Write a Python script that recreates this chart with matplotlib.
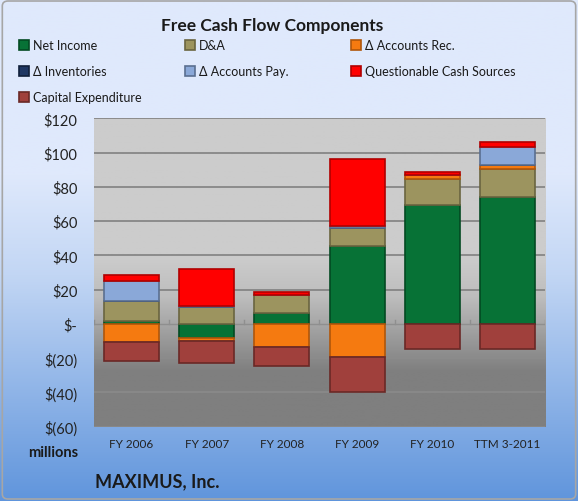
import numpy as np
import matplotlib
matplotlib.use("Agg")
import matplotlib.pyplot as plt
from matplotlib.colors import LinearSegmentedColormap
from matplotlib.patches import FancyBboxPatch

plt.rcParams['font.family'] = ['Lato', 'DejaVu Sans']

categories = ["FY 2006", "FY 2007", "FY 2008", "FY 2009", "FY 2010", "TTM 3-2011"]
series_names = ["Net Income", "D&A", "\u0394 Accounts Rec.", "\u0394 Inventories",
                "\u0394 Accounts Pay.", "Questionable Cash Sources", "Capital Expenditure"]
net_income = [1.5, -8.0, 6.5, 45.5, 69.3, 74.2]
d_and_a = [11.8, 10.0, 10.7, 10.7, 15.6, 16.1]
accounts_rec = [-10.7, -2.0, -13.7, -19.5, 1.9, 2.7]
inventories = [0.0, 0.0, 0.0, 0.0, 0.0, 0.0]
accounts_pay = [11.7, 0.5, 0.0, 1.0, 0.0, 10.3]
questionable = [3.5, 21.5, 1.3, 39.4, 1.9, 2.9]
capex = [-11.1, -12.6, -10.7, -20.0, -14.6, -14.6]
yticks = [-60, -40, -20, 0, 20, 40, 60, 80, 100, 120]
ytick_labels = ["$(60)", "$(40)", "$(20)", "$-", "$20", "$40", "$60", "$80", "$100", "$120"]

colors = ["#077236", "#9c945f", "#f57a10", "#1f3763", "#8aa8d8", "#ff0000", "#a0403c"]
edges = ["#034a22", "#6a6540", "#b0560a", "#101f3a", "#5a6f90", "#b00000", "#6a2826"]

fig = plt.figure(figsize=(5.78, 5.02), dpi=100)

# background gradient
bg = fig.add_axes([0, 0, 1, 1], zorder=-5)
bg.axis("off")
bg_cmap = LinearSegmentedColormap.from_list("bg", [(0, "#6095dc"), (0.45, "#c2d6f4"), (0.65, "#dfe9fc"), (1, "#dfe9fc")])
grad = np.linspace(0, 1, 256).reshape(-1, 1)
bg.imshow(grad, aspect="auto", cmap=bg_cmap, origin="lower", extent=[0, 1, 0, 1])
bg.set_xlim(0, 1)
bg.set_ylim(0, 1)
bg.add_patch(FancyBboxPatch((0.004, 0.004), 0.992, 0.992, boxstyle="round,pad=0,rounding_size=0.01",
                            fill=False, edgecolor="#a6a6a6", lw=1.2, transform=bg.transAxes))

ax = fig.add_axes([0.1626, 0.148, 0.7803, 0.614])
ax.set_facecolor("none")
n = len(categories)
x = np.arange(n)
ax.set_xlim(-0.5, n - 0.5)
ax.set_ylim(-60, 120)

pa_cmap = LinearSegmentedColormap.from_list("pa", [(0, "#7f7f7f"), (0.18, "#7f7f7f"), (0.42, "#bdbdbd"), (0.55, "#cccccc"), (1, "#cccccc")])
ax.imshow(grad, aspect="auto", cmap=pa_cmap, origin="lower", extent=[-0.5, n - 0.5, -60, 120], zorder=0)

for t in yticks:
    if t == 0:
        continue
    ax.axhline(t, color="#7a7a7a" if t > 0 else "#8c8c8c", lw=1.1, zorder=1)
ax.axhline(0, color="#8f8f8f", lw=1, zorder=1)
for b in np.arange(n + 1) - 0.5:
    ax.plot([b, b], [0, 2.5], color="#8f8f8f", lw=1, zorder=1)

series = [net_income, d_and_a, accounts_rec, inventories, accounts_pay, questionable, capex]
pos_base = np.zeros(n)
neg_base = np.zeros(n)
handles = []
for name, vals, c, e in zip(series_names, series, colors, edges):
    vals = np.array(vals)
    bottoms = np.where(vals >= 0, pos_base, neg_base)
    h = ax.bar(x, vals, 0.73, bottom=bottoms, color=c, edgecolor=e, linewidth=1.2, label=name, zorder=3)
    handles.append(h)
    pos_base += np.where(vals > 0, vals, 0)
    neg_base += np.where(vals < 0, vals, 0)

ax.set_yticks(yticks)
ax.set_yticklabels(ytick_labels, fontsize=10.5, color="#222222")
ax.set_xticks(x)
ax.set_xticklabels(categories, fontsize=8.5, color="#222222")
ax.tick_params(axis="both", length=0)
ax.tick_params(axis="x", pad=8)
ax.tick_params(axis="y", pad=12)
for s in ax.spines.values():
    s.set_visible(False)

fig.text(0.47, 0.948, "Free Cash Flow Components", ha="center", va="center", fontsize=12.5, fontweight="bold", color="#1a1a1a")
fig.text(0.135, 0.098, "millions", ha="right", va="center", fontsize=10.5, fontweight="bold", color="#1a1a1a")
fig.text(0.165, 0.04, "MAXIMUS, Inc.", ha="left", va="center", fontsize=13, fontweight="bold", color="#1a1a1a")

# legend: three columns, one legend each
columns = [[0, 3, 6], [1, 4], [2, 5]]
col_x = [0.033, 0.320, 0.607]
for idxs, cx in zip(columns, col_x):
    leg = fig.legend([handles[i] for i in idxs], [series_names[i] for i in idxs],
                     loc="upper left", bbox_to_anchor=(cx, 0.92), frameon=False, fontsize=9,
                     handlelength=0.8, handleheight=0.8, handletextpad=0.3,
                     labelspacing=1.12, borderaxespad=0, borderpad=0)
    for t in leg.get_texts():
        t.set_color("#1a1a1a")

fig.savefig("out.png", dpi=100)
